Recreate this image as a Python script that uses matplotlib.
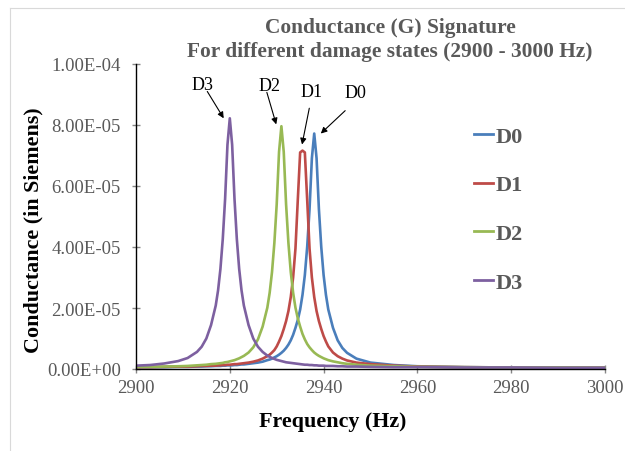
import matplotlib
matplotlib.use("Agg")
import matplotlib.pyplot as plt
from matplotlib.ticker import FuncFormatter, MultipleLocator
from matplotlib.lines import Line2D
import numpy as np

# Frequency grid (Hz)
freq = [2900, 2903, 2906, 2909, 2911, 2913, 2914, 2915, 2916, 2917, 2917.5, 2918, 2918.5,
        2919, 2919.5, 2920, 2920.5, 2921, 2921.5, 2922, 2922.5, 2923, 2924, 2925, 2926,
        2927, 2928, 2928.5, 2929, 2929.5, 2930, 2930.5, 2931, 2931.5, 2932, 2932.5, 2933,
        2933.5, 2934, 2934.5, 2935, 2935.5, 2936, 2936.5, 2937, 2937.5, 2938, 2938.5, 2939,
        2939.5, 2940, 2940.5, 2941, 2942, 2943, 2944, 2945, 2947, 2950, 2955, 2960, 2970,
        2980, 2990, 3000]

# Conductance values in units of 1e-5 Siemens
d0 = [0.06, 0.06, 0.06, 0.07, 0.07, 0.08, 0.08, 0.09, 0.09, 0.10, 0.10, 0.10, 0.11,
      0.11, 0.12, 0.12, 0.12, 0.13, 0.13, 0.14, 0.15, 0.15, 0.17, 0.19, 0.21,
      0.24, 0.29, 0.31, 0.34, 0.38, 0.42, 0.47, 0.53, 0.60, 0.69, 0.80, 0.94,
      1.12, 1.35, 1.61, 1.95, 2.43, 3.08, 4.00, 5.24, 6.91, 7.72, 6.91, 5.24,
      4.00, 3.08, 2.43, 1.95, 1.35, 0.94, 0.69, 0.53, 0.34, 0.21, 0.13, 0.09, 0.06,
      0.05, 0.05, 0.04]
d1 = [0.06, 0.06, 0.07, 0.08, 0.08, 0.09, 0.10, 0.10, 0.11, 0.11, 0.12, 0.12, 0.13,
      0.13, 0.14, 0.14, 0.15, 0.16, 0.16, 0.17, 0.18, 0.19, 0.21, 0.24, 0.28,
      0.34, 0.42, 0.47, 0.54, 0.62, 0.74, 0.90, 1.08, 1.31, 1.57, 1.90, 2.36,
      3.00, 3.95, 5.55, 7.10, 7.16, 7.10, 5.55, 3.95, 3.00, 2.36, 1.90, 1.57,
      1.31, 1.08, 0.90, 0.74, 0.54, 0.42, 0.34, 0.28, 0.21, 0.16, 0.11, 0.08, 0.06,
      0.05, 0.04, 0.04]
d2 = [0.07, 0.07, 0.08, 0.09, 0.10, 0.12, 0.13, 0.14, 0.16, 0.17, 0.18, 0.19, 0.20,
      0.22, 0.23, 0.25, 0.27, 0.29, 0.32, 0.35, 0.39, 0.43, 0.54, 0.71, 0.97,
      1.39, 2.01, 2.50, 3.18, 4.13, 5.40, 7.12, 7.96, 7.12, 5.40, 4.13, 3.18,
      2.50, 2.01, 1.66, 1.39, 1.15, 0.97, 0.82, 0.71, 0.62, 0.54, 0.48, 0.43,
      0.39, 0.35, 0.32, 0.29, 0.25, 0.22, 0.19, 0.17, 0.14, 0.11, 0.09, 0.07, 0.06,
      0.05, 0.05, 0.04]
d3 = [0.11, 0.13, 0.18, 0.26, 0.36, 0.56, 0.73, 1.00, 1.44, 2.08, 2.58, 3.28, 4.26,
      5.58, 7.35, 8.22, 7.35, 5.58, 4.26, 3.28, 2.58, 2.08, 1.44, 1.00, 0.73,
      0.56, 0.44, 0.40, 0.36, 0.33, 0.30, 0.28, 0.26, 0.24, 0.22, 0.21, 0.20,
      0.19, 0.18, 0.17, 0.16, 0.15, 0.14, 0.14, 0.13, 0.13, 0.12, 0.12, 0.11,
      0.11, 0.11, 0.10, 0.10, 0.10, 0.09, 0.09, 0.08, 0.08, 0.07, 0.06, 0.06, 0.05,
      0.05, 0.04, 0.04]

series_names = ["D0", "D1", "D2", "D3"]
series_vals = [d0, d1, d2, d3]
colors = ["#4A7EBB", "#BE4B48", "#98B954", "#7D60A0"]

title = "Conductance (G) Signature\nFor different damage states (2900 - 3000 Hz)"
xlabel = "Frequency (Hz)"
ylabel = "Conductance (in Siemens)"

plt.rcParams['font.family'] = ['Liberation Serif', 'DejaVu Serif']
GRAY = "#595959"

fig = plt.figure(figsize=(6.25, 4.52), dpi=100)
ax = fig.add_axes([136/625, 1-370/452, (605-136)/625, (370-65)/452])

x = np.array(freq)
for name, vals, c in zip(series_names, series_vals, colors):
    ax.plot(x, np.array(vals) * 1e-5, color=c, lw=1.9, label=name, solid_joinstyle='round')

ax.set_xlim(2900, 3000)
ax.set_ylim(0, 1e-4)
ax.xaxis.set_major_locator(MultipleLocator(20))
ax.yaxis.set_major_locator(MultipleLocator(2e-5))
ax.yaxis.set_major_formatter(FuncFormatter(lambda v, p: f"{v:.2E}"))

for s in ["top", "right"]:
    ax.spines[s].set_visible(False)
for s in ["left", "bottom"]:
    ax.spines[s].set_color("black")
    ax.spines[s].set_linewidth(1.0)
ax.tick_params(axis='both', direction='inout', length=6, width=1.0, color="#868686",
               labelcolor=GRAY, labelsize=13.5)
ax.tick_params(axis='x', pad=4)
ax.tick_params(axis='y', pad=8)

fig.text(333/625, 1-422/452, xlabel, ha='center', va='center', fontsize=15.8,
         fontweight='bold', color='black')
fig.text(33/625, 1-230/452, ylabel, ha='center', va='center', rotation=90, fontsize=15.8,
         fontweight='bold', color='black')
fig.text(390/625, 1-40/452, title, ha='center', va='center', fontsize=15.4,
         fontweight='bold', color=GRAY, linespacing=1.22)

# Peak annotations
ann = [("D3", (2914.2, 9.34e-5), (2915.2, 9.10e-5), (2918.7, 8.22e-5)),
       ("D2", (2928.4, 9.29e-5), (2927.9, 9.07e-5), (2929.9, 8.02e-5)),
       ("D1", (2937.5, 9.10e-5), (2936.95, 8.55e-5), (2935.4, 7.36e-5)),
       ("D0", (2946.7, 9.07e-5), (2944.6, 8.47e-5), (2939.4, 7.72e-5))]
for lab, tpos, start, tip in ann:
    ax.text(tpos[0], tpos[1], lab, ha='center', va='center', fontsize=13, color='black')
    ax.annotate('', xy=tip, xytext=start,
                arrowprops=dict(arrowstyle='-|>', color='black', lw=0.8,
                                mutation_scale=9, shrinkA=0, shrinkB=0))

leg = ax.legend(loc='upper left', bbox_to_anchor=(454/625, 1-107/452), bbox_transform=fig.transFigure,
                frameon=False, handlelength=0.86, handletextpad=0.1, labelspacing=1.27,
                prop={'family': 'Liberation Serif', 'weight': 'bold', 'size': 16})
for t in leg.get_texts():
    t.set_color(GRAY)
for h in leg.get_lines():
    h.set_linewidth(2.0)

# faint chart-area border
fig.add_artist(Line2D([10/625, 10/625], [0, 1-9/452], transform=fig.transFigure, color="#d9d9d9", lw=0.8))
fig.add_artist(Line2D([10/625, 1], [1-9/452, 1-9/452], transform=fig.transFigure, color="#d9d9d9", lw=0.8))

fig.savefig("out.png", dpi=100, facecolor='white')
